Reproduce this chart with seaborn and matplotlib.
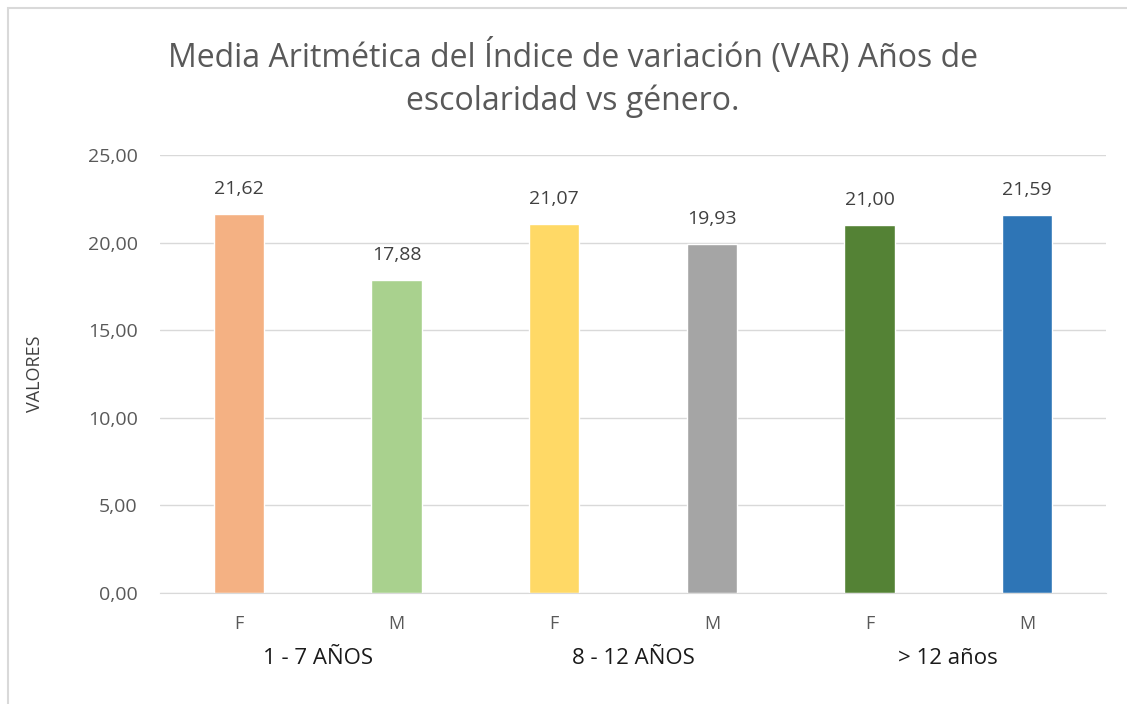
import matplotlib
matplotlib.use("Agg")
import matplotlib.pyplot as plt
import matplotlib.transforms as mtransforms
import seaborn as sns
import pandas as pd

grupos = ["1 - 7 AÑOS", "1 - 7 AÑOS", "8 - 12 AÑOS", "8 - 12 AÑOS", "> 12 años", "> 12 años"]
genero = ["F", "M", "F", "M", "F", "M"]
valores = [21.62, 17.88, 21.07, 19.93, 21.00, 21.59]
colores = ["#F4B183", "#A9D18E", "#FFD966", "#A5A5A5", "#548235", "#2E75B6"]
etiquetas_grupo = ["1 - 7 AÑOS", "8 - 12 AÑOS", "> 12 años"]
yticks = [0, 5, 10, 15, 20, 25]

df = pd.DataFrame({"grupo": grupos, "genero": genero, "valor": valores})
df["clave"] = [f"{g}|{s}" for g, s in zip(grupos, genero)]

sns.set_style("white")
plt.rcParams["font.family"] = ["Open Sans", "DejaVu Sans"]

fig = plt.figure(figsize=(11.27, 7.04), dpi=100)
ax = fig.add_axes([160 / 1127, 1 - 593 / 704, (1106 - 160) / 1127, (593 - 155) / 704])

sns.barplot(data=df, x="clave", y="valor", hue="clave", palette=colores,
            width=0.32, legend=False, ax=ax, saturation=1)

ax.set_ylim(0, 25)
ax.set_xlim(-0.5, 5.5)
ax.set_yticks(yticks)
ax.set_yticklabels([f"{v:.2f}".replace(".", ",") for v in yticks], color="#595959", fontsize=14)
ax.yaxis.grid(True, color="#D9D9D9", linewidth=1)
ax.set_axisbelow(True)
for s in ["top", "right", "left"]:
    ax.spines[s].set_visible(False)
ax.spines["bottom"].set_color("#D9D9D9")
ax.tick_params(axis="y", length=0, pad=16)

# ticks entre categorias
ax.set_xticks([i - 0.5 for i in range(7)], minor=True)
ax.set_xticks(range(6))
ax.set_xticklabels(genero, color="#595959", fontsize=13)
ax.tick_params(axis="x", which="major", length=0, pad=16)
ax.tick_params(axis="x", which="minor", length=8, color="#D9D9D9", width=1)
ax.set_xlabel("")
ax.set_ylabel("VALORES", color="#404040", fontsize=13)
ax.yaxis.set_label_coords(-(160 - 44) / (1106 - 160), 0.5)

for i, v in enumerate(valores):
    ax.text(i, v + 0.9, f"{v:.2f}".replace(".", ","), ha="center", va="bottom",
            color="#404040", fontsize=14)

trans = mtransforms.blended_transform_factory(ax.transData, fig.transFigure)
for j, g in enumerate(etiquetas_grupo):
    ax.text(2 * j + 0.5, 1 - 659 / 704, g, transform=trans, ha="center", va="center",
            color="#1A1A1A", fontsize=16)

fig.text(0.508, 1 - 57 / 704, "Media Aritmética del Índice de variación (VAR) Años de",
         ha="center", va="center", color="#595959", fontsize=23)
fig.text(0.508, 1 - 101 / 704, "escolaridad vs género.",
         ha="center", va="center", color="#595959", fontsize=23)

# marco del grafico
fig.add_artist(plt.Rectangle((8 / 1127, -0.1), 1.2, 1 - 8 / 704 + 0.1, transform=fig.transFigure,
                             fill=False, edgecolor="#D9D9D9", linewidth=1.5))

fig.savefig("out.png", dpi=100)
